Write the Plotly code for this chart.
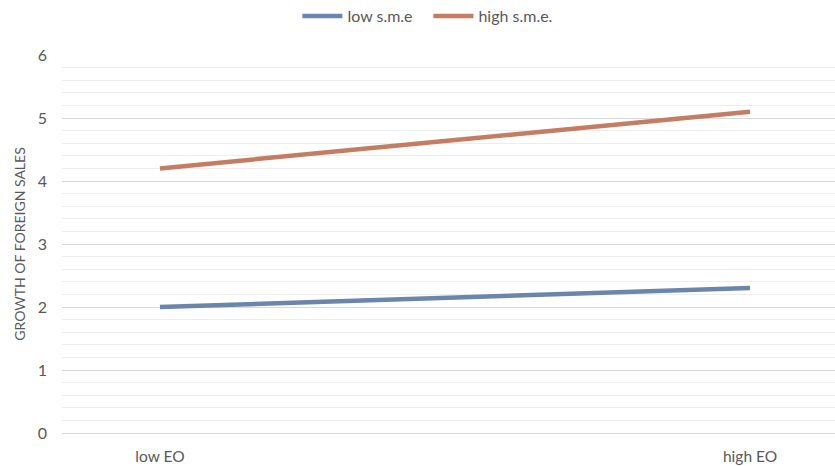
import plotly.graph_objects as go

categories = ["low EO", "high EO"]
low_sme = [2.0, 2.3]
high_sme = [4.2, 5.1]
series_names = ["low s.m.e", "high s.m.e."]
y_title = "GROWTH OF FOREIGN SALES"

fig = go.Figure()
fig.add_trace(go.Scatter(x=[0, 1], y=low_sme, mode="lines", name=series_names[0],
                         line=dict(color="#6a86ad", width=4.5)))
fig.add_trace(go.Scatter(x=[0, 1], y=high_sme, mode="lines", name=series_names[1],
                         line=dict(color="#c47c63", width=4.5)))

font = dict(family="Lato, 'Open Sans', sans-serif", color="#595959")

fig.update_layout(
    width=835, height=466,
    margin=dict(l=62, r=0, t=55, b=33),
    paper_bgcolor="white", plot_bgcolor="white",
    font=dict(**font, size=15),
    showlegend=True,
    legend=dict(orientation="h", x=0.474, xanchor="center", y=1 - 16 / 466, yanchor="middle",
                yref="container", font=dict(**font, size=16), traceorder="normal",
                itemwidth=40, entrywidth=76),
    xaxis=dict(tickmode="array", tickvals=[0, 1], ticktext=categories,
               range=[-0.166, 1.144], showgrid=False, zeroline=False, showline=False,
               ticks="", tickfont=dict(**font, size=15.5), ticklabelstandoff=12,
               fixedrange=True),
    yaxis=dict(range=[0, 6], dtick=1, tick0=0, showgrid=True, gridcolor="#d9d9d9",
               gridwidth=1, zeroline=True, zerolinecolor="#d9d9d9", zerolinewidth=1,
               showline=False, ticks="", tickfont=dict(**font, size=16),
               ticklabelstandoff=14,
               title=dict(text=y_title, font=dict(**font, size=14), standoff=8),
               minor=dict(dtick=0.2, tick0=0, showgrid=True, gridcolor="#ededed", gridwidth=1)),
)

fig.write_html("out.html")
